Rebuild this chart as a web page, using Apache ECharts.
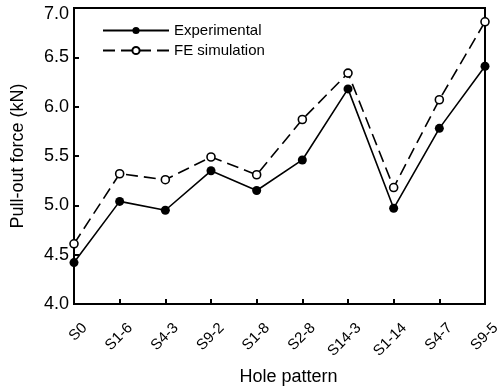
<!DOCTYPE html>
<html><head><meta charset="utf-8">
<script src="https://cdn.jsdelivr.net/npm/echarts@6/dist/echarts.min.js"></script>
<style>html,body{margin:0;padding:0;background:#fff}#c{width:497px;height:387px}</style>
</head><body><div id="c"></div>
<script>
const categories = ['S0','S1-6','S4-3','S9-2','S1-8','S2-8','S14-3','S1-14','S4-7','S9-5'];
const experimental = [4.42, 5.04, 4.95, 5.35, 5.15, 5.46, 6.18, 4.97, 5.78, 6.41];
const feSimulation = [4.61, 5.32, 5.26, 5.49, 5.31, 5.87, 6.34, 5.18, 6.07, 6.86];
const yTicks = [4.0, 4.5, 5.0, 5.5, 6.0, 6.5, 7.0];

const F = 'Liberation Sans, Arial, sans-serif';
const chart = echarts.init(document.getElementById('c'), null, {renderer:'canvas'});
chart.setOption({
  animation:false,
  backgroundColor:'#fff',
  grid:{left:74,right:12,top:8,bottom:83,containLabel:false,outerBoundsMode:'none',
        show:true,borderColor:'#000',borderWidth:2,backgroundColor:'transparent'},
  legend:{
    left:97, top:18, orient:'vertical', itemWidth:66, itemHeight:9, itemGap:5,
    textStyle:{fontFamily:F,fontSize:15,color:'#000'},
    data:['Experimental','FE simulation']
  },
  xAxis:{
    type:'category', data:categories, boundaryGap:false,
    name:'Hole pattern', nameLocation:'middle', nameGap:64, nameMoveOverlap:false,
    nameTextStyle:{fontFamily:F,fontSize:18,color:'#000',padding:[0,0,0,18]},
    axisLine:{lineStyle:{color:'#000',width:2}},
    axisTick:{inside:true,length:5,lineStyle:{color:'#000',width:2}},
    axisLabel:{rotate:45,fontFamily:F,fontSize:15,color:'#000',margin:11,verticalAlign:'top',lineHeight:30},
    splitLine:{show:false}
  },
  yAxis:{
    type:'value', min:yTicks[0], max:yTicks[yTicks.length-1], interval:0.5,
    name:'Pull-out force (kN)', nameLocation:'middle', nameGap:47, nameMoveOverlap:false,
    nameTextStyle:{fontFamily:F,fontSize:18,color:'#000'},
    axisLine:{show:true,lineStyle:{color:'#000',width:2}},
    axisTick:{show:true,inside:true,length:5,lineStyle:{color:'#000',width:2}},
    axisLabel:{fontFamily:F,fontSize:18,color:'#000',margin:5,
      formatter:v=> v >= yTicks[yTicks.length-1] ? '{top|' + v.toFixed(1) + '}' : v.toFixed(1),
      rich:{top:{fontFamily:F,fontSize:18,color:'#000',padding:[13,0,0,0]}}},
    splitLine:{show:false}
  },
  series:[
    {name:'Experimental',type:'line',data:experimental,symbol:'circle',symbolSize:9,
     itemStyle:{color:'#000'},lineStyle:{color:'#000',width:1.6}},
    {name:'FE simulation',type:'line',data:feSimulation,symbol:'circle',symbolSize:8,
     itemStyle:{color:'#fff',borderColor:'#000',borderWidth:1.6},lineStyle:{color:'#000',width:1.6,type:[12,6]}}
  ]
});
</script></body></html>
